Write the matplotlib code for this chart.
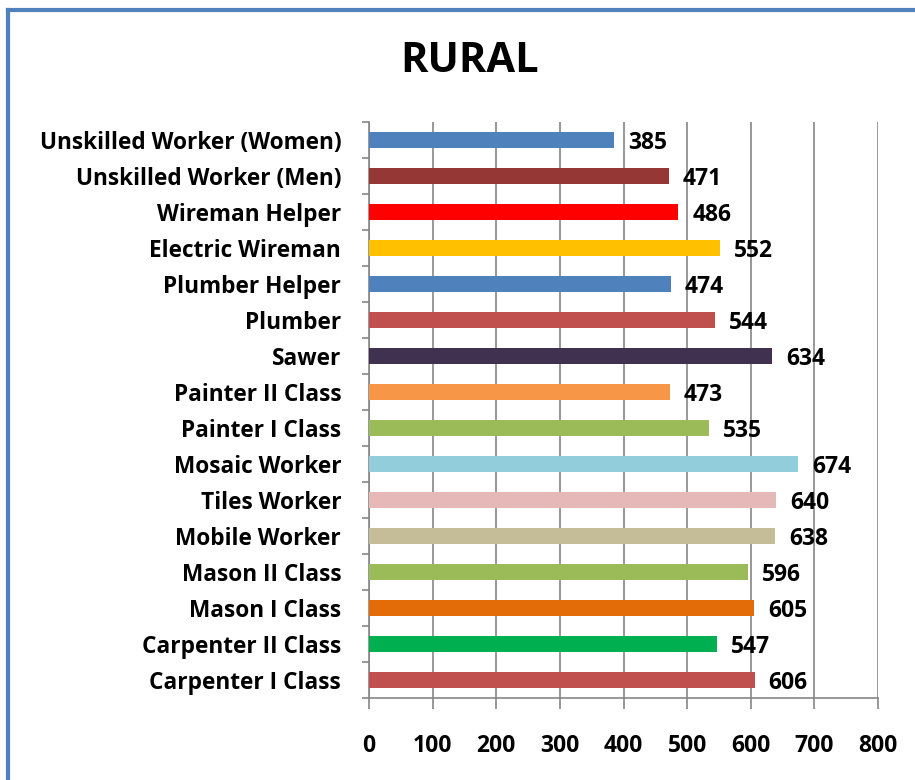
import matplotlib
matplotlib.use("Agg")
import matplotlib.pyplot as plt
from matplotlib.lines import Line2D
import numpy as np

categories = ["Carpenter I Class", "Carpenter II Class", "Mason I Class", "Mason II Class",
              "Mobile Worker", "Tiles Worker", "Mosaic Worker", "Painter I Class",
              "Painter II Class", "Sawer", "Plumber", "Plumber Helper",
              "Electric Wireman", "Wireman Helper", "Unskilled Worker (Men)",
              "Unskilled Worker (Women)"]
values = [606, 547, 605, 596, 638, 640, 674, 535, 473, 634, 544, 474, 552, 486, 471, 385]
colors = ["#C0504D", "#00B050", "#E36C09", "#9BBB59", "#C4BD97", "#E6B9B8", "#92CDDC",
          "#9BBB59", "#F79646", "#403151", "#C0504D", "#4F81BD", "#FFC000", "#FF0000",
          "#953735", "#4F81BD"]
xticks = [0, 100, 200, 300, 400, 500, 600, 700, 800]
title = "RURAL"

plt.rcParams['font.family'] = ['Open Sans', 'DejaVu Sans']

fig = plt.figure(figsize=(9.15, 7.8), dpi=100)
ax = fig.add_axes([369/915, 1-698/780, (878-369)/915, (698-122)/780])

y = np.arange(len(categories))
ax.barh(y, values, height=0.42, color=colors, zorder=3)
for yi, v in zip(y, values):
    ax.text(v + 22, yi - 0.08, str(v), va='center', ha='left', fontsize=16.5,
            fontweight='bold', color='black', zorder=4)

ax.set_xlim(0, 800)
ax.set_ylim(-0.5, len(categories) - 0.5)
ax.set_xticks(xticks)
ax.set_xticklabels([str(t) for t in xticks], fontsize=16.5, fontweight='bold')
ax.set_yticks(y)
ax.set_yticklabels(categories, fontsize=16.3, fontweight='bold')
ax.tick_params(axis='y', which='major', length=0, pad=20)
ax.set_yticks(np.arange(-0.5, len(categories)), minor=True)
ax.tick_params(axis='y', which='minor', length=5, color='#868686', width=1.2)
ax.tick_params(axis='x', which='major', length=8, color='#868686', width=1.2, pad=18)
ax.grid(axis='x', color='#868686', linewidth=1.2, zorder=0)
for s in ['top', 'right']:
    ax.spines[s].set_visible(False)
for s in ['left', 'bottom']:
    ax.spines[s].set_color('#868686')
    ax.spines[s].set_linewidth(1.2)

fig.text(470/915, 1-62/780, title, ha='center', va='center', fontsize=30, fontweight='bold')

# outer frame (blue left and top edges)
fig.add_artist(Line2D([8/915, 8/915], [0, 1-10/780], color='#4F81BD', linewidth=3,
                      transform=fig.transFigure))
fig.add_artist(Line2D([8/915, 1], [1-10/780, 1-10/780], color='#4F81BD', linewidth=3,
                      transform=fig.transFigure))

fig.savefig("out.png", dpi=100)
